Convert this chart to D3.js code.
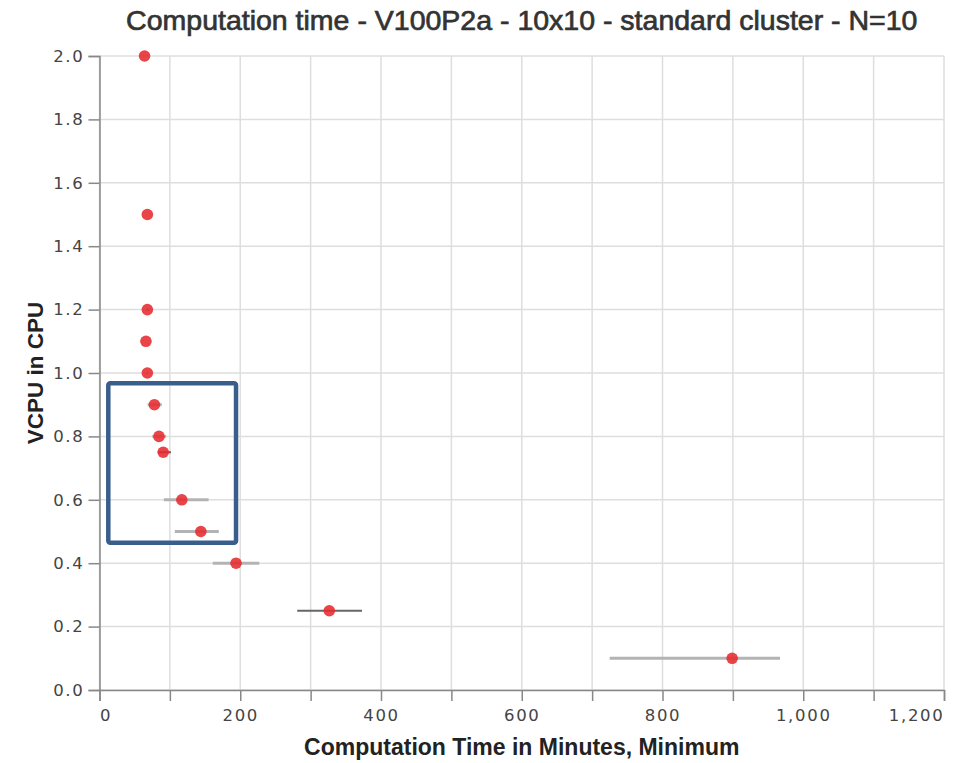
<!DOCTYPE html>
<html>
<head>
<meta charset="utf-8">
<script src="https://cdn.jsdelivr.net/npm/d3@7"></script>
<style>
  html, body { margin: 0; padding: 0; background: #fff; }
  svg { display: block; }
</style>
</head>
<body>
<svg id="chart" width="969" height="763"></svg>
<script>
// ---- data ----
const titleText = "Computation time - V100P2a - 10x10 - standard cluster - N=10";
const xTitle = "Computation Time in Minutes, Minimum";
const yTitle = "VCPU in CPU";

const vcpu     = [2.0, 1.5, 1.2, 1.1, 1.0, 0.9, 0.8, 0.75, 0.6, 0.5, 0.4, 0.25, 0.1];
const minTime  = [64, 68, 68, 66, 68, 78, 84.5, 90.5, 117, 144, 194, 326.5, 899];
const errLow   = [64, 68, 66, 66, 67, 68.5, 75, 83, 91.5, 107, 161, 281, 725];
const errHigh  = [64, 68, 71, 66, 69, 88.5, 94.5, 101.5, 155, 169.5, 227, 373, 967];
const errRuns  = [1, 1, 1, 1, 1, 1, 1, 2, 1, 1, 1, 2, 1];   // overlapping runs drawn on the same row

const xTicks = [0, 100, 200, 300, 400, 500, 600, 700, 800, 900, 1000, 1100, 1200];
const xTickLabels = [0, 200, 400, 600, 800, 1000, 1200];
const yTicks = [0.0, 0.2, 0.4, 0.6, 0.8, 1.0, 1.2, 1.4, 1.6, 1.8, 2.0];

// highlighted region annotation (data units)
const highlightX = [12.5, 194];
const highlightY = [0.4647, 0.9675];

// ---- layout ----
const svg = d3.select("#chart");
const mLeft = 99.5, mRight = 944, mTop = 56, mBottom = 690;

const x = d3.scaleLinear().domain([0, 1200]).range([mLeft, mRight]);
const y = d3.scaleLinear().domain([0, 2]).range([mBottom, mTop]);

const rows = vcpu.map((v, i) => ({v, t: minTime[i], lo: errLow[i], hi: errHigh[i], n: errRuns[i]}));

// gridlines
const grid = svg.append("g");
grid.selectAll("line.gx").data(xTicks).join("line")
  .attr("class", "gx")
  .attr("x1", d => x(d)).attr("x2", d => x(d))
  .attr("y1", mTop).attr("y2", mBottom)
  .attr("stroke", "#dedede").attr("stroke-width", 1.5);
grid.selectAll("line.gy").data(yTicks).join("line")
  .attr("class", "gy")
  .attr("x1", mLeft).attr("x2", mRight)
  .attr("y1", d => y(d)).attr("y2", d => y(d))
  .attr("stroke", "#dedede").attr("stroke-width", 1.5);

// axes
const fmtX = d3.format(",");
const xAxis = d3.axisBottom(x).tickValues(xTicks).tickSize(11).tickPadding(8)
  .tickFormat(d => xTickLabels.includes(d) ? fmtX(d) : "");
const yAxis = d3.axisLeft(y).tickValues(yTicks).tickSize(11).tickPadding(4)
  .tickFormat(d3.format(".1f"));

const gx = svg.append("g").attr("transform", `translate(0,${mBottom})`).call(xAxis);
const gy = svg.append("g").attr("transform", `translate(${mLeft},0)`).call(yAxis);

[gx, gy].forEach(g => {
  g.select(".domain").attr("stroke", "#888").attr("stroke-width", 1.5);
  g.selectAll(".tick line").attr("stroke", "#888").attr("stroke-width", 1.5);
  g.selectAll(".tick text")
    .attr("fill", "#444")
    .style("font-family", "'DejaVu Sans', sans-serif")
    .style("font-size", "16.5px")
    .style("letter-spacing", "1.7px");
});
// flush first / last x labels
gx.selectAll(".tick text").attr("text-anchor", d => d === 0 ? "start" : (d === 1200 ? "end" : "middle"));

// error bars
const bars = svg.append("g");
rows.filter(r => r.hi > r.lo).forEach(r => {
  bars.append("line")
    .attr("x1", x(r.lo)).attr("x2", x(r.hi))
    .attr("y1", y(r.v)).attr("y2", y(r.v))
    .attr("stroke", r.n > 1 ? "#666" : "#b3b3b3")
    .attr("stroke-width", r.n > 1 ? 2.2 : 3);
});

// points
svg.append("g").selectAll("circle").data(rows).join("circle")
  .attr("cx", d => x(d.t)).attr("cy", d => y(d.v)).attr("r", 5.8)
  .attr("fill", "#e62a2f").attr("fill-opacity", 0.88);

// highlight rectangle
svg.append("rect")
  .attr("x", x(highlightX[0])).attr("y", y(highlightY[1]))
  .attr("width", x(highlightX[1]) - x(highlightX[0]))
  .attr("height", y(highlightY[0]) - y(highlightY[1]))
  .attr("rx", 2)
  .attr("fill", "none").attr("stroke", "#3a5e8c").attr("stroke-width", 4.5);

// titles
svg.append("text")
  .attr("x", (mLeft + mRight) / 2).attr("y", 29.5)
  .attr("text-anchor", "middle")
  .attr("fill", "#333").attr("stroke", "#333").attr("stroke-width", 0.7)
  .style("font-family", "'Liberation Sans', Arial, sans-serif")
  .style("font-size", "28.5px")
  .text(titleText);

svg.append("text")
  .attr("x", (mLeft + mRight) / 2).attr("y", 754.5)
  .attr("text-anchor", "middle")
  .attr("fill", "#222")
  .style("font-family", "'Liberation Sans', Arial, sans-serif")
  .style("font-size", "23px")
  .style("font-weight", "bold")
  .text(xTitle);

svg.append("text")
  .attr("transform", `translate(43,${(mTop + mBottom) / 2}) rotate(-90)`)
  .attr("text-anchor", "middle")
  .attr("fill", "#222")
  .style("font-family", "'Liberation Sans', Arial, sans-serif")
  .style("font-size", "22.5px")
  .style("font-weight", "bold")
  .text(yTitle);
</script>
</body>
</html>
